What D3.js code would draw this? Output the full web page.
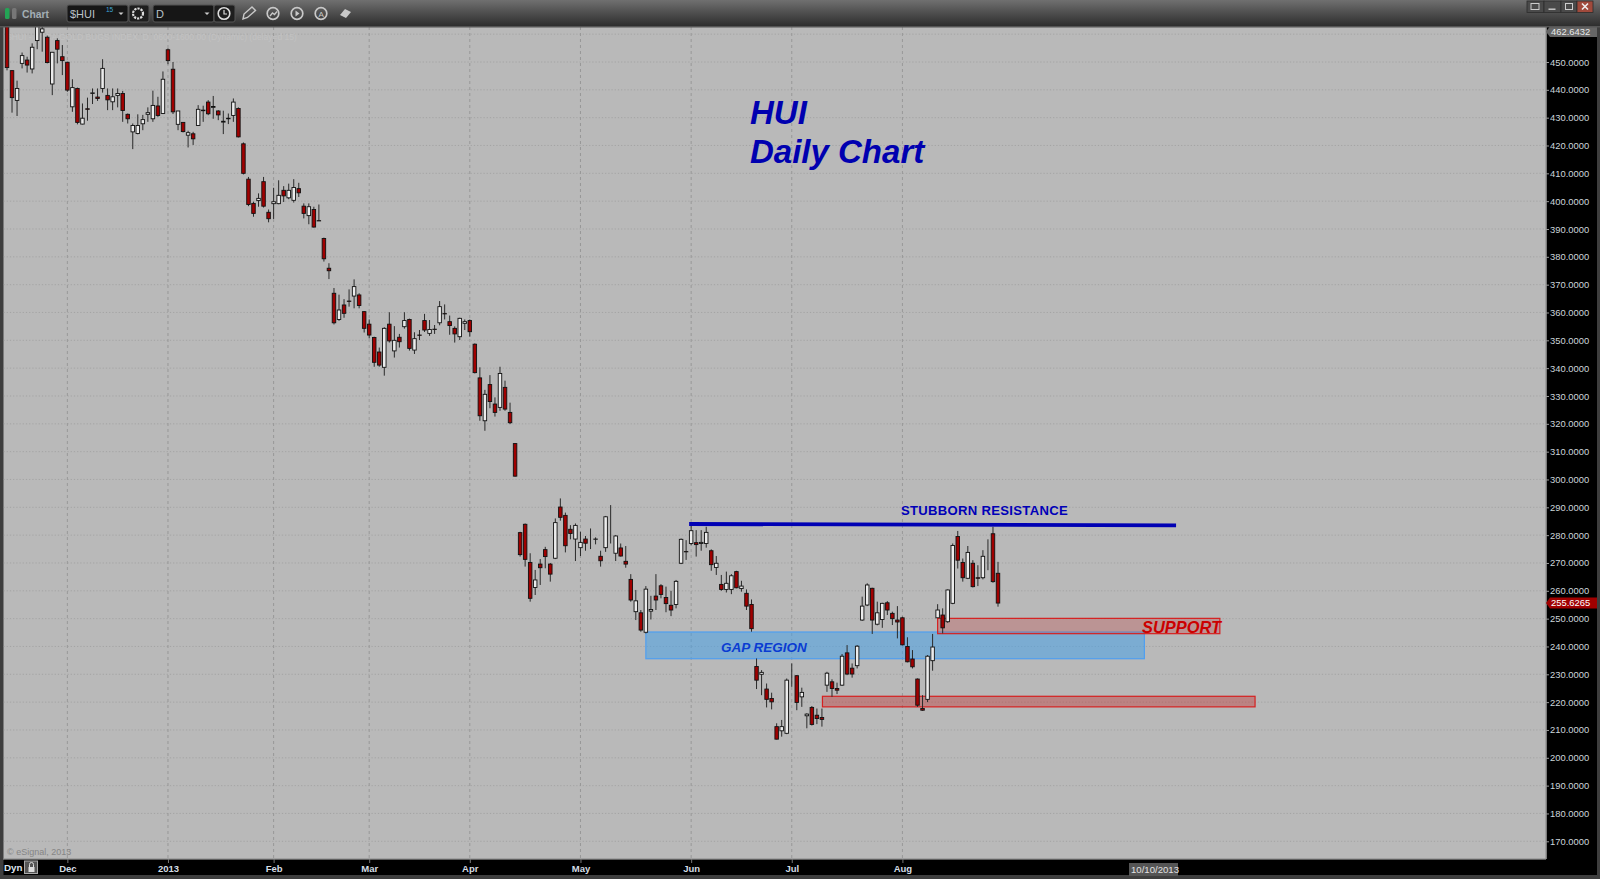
<!DOCTYPE html>
<html><head><meta charset="utf-8">
<style>
html,body{margin:0;padding:0;background:#3a3a3a;overflow:hidden}
svg{display:block}
text{font-family:"Liberation Sans",Arial,sans-serif}
</style>
<script src="https://cdn.jsdelivr.net/npm/d3@7/dist/d3.min.js"></script>
</head><body>
<script>
const opens=[466,446.9,436.2,449.5,450.7,447.5,457.7,460.7,458.9,442.1,
457.7,451.9,449.9,433.9,440.5,427.7,433.2,438.7,437.4,440.5,
438,435.7,438,438.7,431.2,424.9,424.3,427.8,431.2,429.6,
434.2,431.5,454.4,447.4,427.6,428.3,423.7,424.2,427.2,432.7,
435.6,433.7,432.4,428.4,429.8,430.8,433.3,420.6,407.9,399.2,
400.2,407,396,399.1,399.1,403.9,401.2,400.3,404.5,398.2,
394.8,397,393,386.6,375.9,366.9,357.5,362.7,364.1,365.9,
366.3,360.3,355.8,351,345.8,340.3,355.8,346.2,351.1,354.9,
357.5,346.5,351.9,357.1,352.5,354,356.3,359.6,356.7,354.3,
351.3,356.1,357.1,348.6,336.5,321.1,334.1,327.1,325.9,333.1,
324.1,312.9,280.9,283.9,270.2,261.2,269.6,274.8,269.6,271.7,
290.1,287.1,282.1,278.6,275.5,278.6,276.8,278.5,272.4,275.5,
280.6,273.5,275.4,270.6,264.1,252.5,252.1,245.1,252.7,258.1,
261.8,257.6,254.8,255.1,269.9,274.1,277,277.3,277,277,
274.4,268.4,262.3,260.5,260.5,266.9,260.8,259.1,255.1,232.8,
230,224.7,221.3,211.2,209.7,208.8,230.6,229.5,221.9,215.1,
218.1,215.3,214.5,226.1,227.3,224.9,226.1,237.7,232.2,233.1,
249.5,254.9,260.9,248,249.7,255.7,251.9,249.5,250.3,240,
235.5,228.3,217.7,221,234.9,250.3,251.3,248.9,255.5,279.5,
270.2,264.5,269.9,264.7,264.7,274.6,280.5,266.3];
const closes=[448,437.2,440.5,452.3,448.9,455.3,464,461.9,449.8,453.5,
454.6,450.5,439.9,440.8,428.3,429.8,433,438.9,436.9,447.7,
436.4,437.5,438.7,432.6,429.6,427.2,427.2,429.3,431.8,434.4,
430.8,443.8,450.5,432.1,432.4,425,424.6,422.4,433,432.5,
431.4,434,431,428.7,429.6,435.6,423.1,410,398.8,395.6,
401,398.2,393.7,399.8,402.1,401.9,403.9,404.9,403,395.6,
398,390.7,392.9,379.3,375,356.3,360.9,359.7,364,369.3,
362.5,354.3,351.9,342.1,341.1,354.3,349.8,350,349.5,357.1,
347.1,350.6,351.8,353.7,353.9,353.9,362.1,359.5,355.3,352.3,
357.9,356.7,353.1,338.4,322.9,330.6,328,324.1,338.1,325.3,
320.4,301.2,273,271.3,257.3,263.9,268.3,272.3,266,284.5,
286.4,276.2,280.6,283.5,277.4,277.1,276.8,278.6,270.8,286.6,
280.6,279.7,272.5,269.6,256.7,256.4,245.9,260.6,253.3,256.7,
258.7,255.4,253.1,263.4,278.5,274,281.6,276.6,277.4,281,
269.4,269.9,260.5,262.7,265.4,261.1,261.7,254.5,246.4,227.9,
230.7,221,220.1,206.7,211.2,227.9,230.6,219.9,223.5,215.7,
212,214.1,213.8,230.4,224.9,224.3,236.5,230.1,230.1,240.1,
254.5,262.1,249.5,252.1,255.5,253.1,250,248.8,240.6,234.5,
232.7,218.9,217.1,236.5,239.8,253.1,246.7,260.3,276.3,271,
264.7,273.8,261.5,264.5,272.4,274.6,263.3,255.6];
const highs=[470,447,443.3,453.4,451.9,456.7,466,464,459.5,453.6,
458.5,456.1,450.1,443.8,440.8,435.1,437.2,440.5,440.5,451,
440.5,440.5,440.5,439.6,431.5,427.9,431.2,431,433.7,439.7,
437.5,446.6,454.9,450,432.4,428.3,425.3,424.9,434.5,434.3,
436.3,437.8,432.7,432.5,431.5,436.9,433.7,421.1,408.7,399.8,
402.8,408.7,397,404.8,407.5,405.4,406.3,407.9,406.6,399.2,
399.2,398,398.8,386.9,377.7,368.8,366.4,364.8,368.3,371.9,
366.9,360.5,357.5,351.3,347.4,354.7,360.1,355.1,352.3,360.1,
357.8,352.9,353.7,359.5,357.3,355.5,364.1,362.9,358.9,355,
358.1,357.5,357.5,348.9,340.3,332.2,337.5,329.5,340.5,335.5,
327.6,313,281.2,284.2,273.5,267.5,271.4,275.8,270,286,
293.2,288.1,283.6,284.2,281.2,279.7,282.4,279.2,274.4,286.9,
290.8,280,277,276.1,266,260.3,253.1,261.7,258.2,266,
262.4,261.5,260,263.9,278.8,278.2,283.6,281.8,281.8,283,
274.9,272.5,265.7,266.9,266,267.2,263.6,260.5,256.9,235.7,
231.5,226.7,223.4,212.4,213.6,228.5,233.9,229.7,225.2,216,
218.6,217.7,217.7,230.9,228.2,227,237.3,240.5,233.9,240.5,
257.9,262.7,261.1,256.1,255.7,256.3,252.5,254.5,250.7,243.3,
238.7,228.5,222.5,236.9,244.5,255.2,253.7,260.5,277,281.5,
271.6,276.1,271,269.2,274.6,278.5,283,270.4];
const lows=[447,431.8,430.6,447.7,446.2,445.9,454.6,453.7,449.5,438.1,
449.5,445.3,439.3,432.1,427.6,427.6,428.9,434.9,436,439,
432.7,432.7,433.7,428.5,427.9,418.7,424,425.5,428.5,428.5,
430.3,431.3,449.2,431.3,425.5,424.7,419.3,420.2,427,428.5,
430.9,429.6,429.1,424.1,427.7,428.5,422.9,409.6,398.2,394.4,
398,397.7,392.4,393.6,398.9,399.7,400.7,399.5,401.5,393.8,
391.7,390.5,392.9,378.3,372,355.7,357,358.1,362.1,361.5,
361.5,352.8,350.7,340.5,340.5,337.3,349.2,343.8,347.4,354.2,
346.3,345.1,350.1,353,351.6,352.3,355.4,357.5,352,349.2,
350.1,353.7,351.3,338.1,321.1,317.5,325.6,322.6,324.7,324.7,
319.9,301,272.3,268.7,256.1,258.5,262.1,268.1,263.3,271.4,
285.2,273.8,278.5,270.7,272.5,274.4,275,276.7,268.7,274,
277,270.7,272.3,268.3,256.1,249.5,245.3,244.7,249.7,253.1,
257.3,252.3,250.9,253.7,269.6,271.1,276.4,272.3,274.4,275.5,
267.2,265.7,260,259.4,258.8,260.9,259.7,253.1,245.3,224.7,
222.5,218.1,217.4,206.6,207.6,208.5,225.5,217.1,218.3,210.6,
211.6,212.1,211.2,223.7,221.9,222.9,225.8,229.7,228.8,232.1,
249.2,254.5,244.5,247.6,246.7,251.3,247.7,242.9,240.4,234.3,
232.1,218.3,216.9,220,231.3,250.3,244.7,248.5,255.2,268,
263.3,264.2,261.2,261.7,264.1,267.4,262.9,254.3];

const monthIndex=[12,32,53,72,92,114,136,156,178];
const monthLabels=["Dec","2013","Feb","Mar","Apr","May","Jun","Jul","Aug"];
const priceTicks=d3.range(170,460,10);
const gridPrices=d3.range(170,470,10);
const topPrice=462.6432, lastPrice=255.6265;
const gapZone=[127,226.1,245.2,235.6];
const supportUpper=[185,241.1,250.1,244.6];
const supportLower=[162.1,248.1,222.1,218.3];
const resistance=[135.6,232.4,284,283.5];

const W=1600,H=879,L=3.5,T=27,R=1546,B=859;
const x=d3.scaleLinear().domain([0,197]).range([7,998]);
const y=d3.scaleLinear().domain([170,450]).range([841.3,62]);

const svg=d3.select("body").append("svg").attr("width",W).attr("height",H);
const defs=svg.append("defs");
const g1=defs.append("linearGradient").attr("id","bar").attr("x1",0).attr("x2",0).attr("y1",0).attr("y2",1);
g1.append("stop").attr("offset",0).attr("stop-color","#707070");
g1.append("stop").attr("offset",.5).attr("stop-color","#4e4e4e");
g1.append("stop").attr("offset",1).attr("stop-color","#2e2e2e");
defs.append("clipPath").attr("id","plot").append("rect").attr("x",L).attr("y",T).attr("width",R-L).attr("height",B-T);

svg.append("rect").attr("width",W).attr("height",H).attr("fill","#3e3e3e");
svg.append("rect").attr("x",R).attr("y",T).attr("width",W-R-3).attr("height",875-T).attr("fill","#000");
svg.append("rect").attr("x",L).attr("y",B).attr("width",W-L-3).attr("height",875-B).attr("fill","#000");
svg.append("rect").attr("x",L).attr("y",T).attr("width",R-L).attr("height",B-T).attr("fill","#b9b9b9");
svg.append("rect").attr("x",L-.5).attr("y",B-.5).attr("width",R-L+.5).attr("height",1.2).attr("fill","#888");
svg.append("rect").attr("x",R-.5).attr("y",T).attr("width",1.4).attr("height",B-T).attr("fill","#888");

const plot=svg.append("g").attr("clip-path","url(#plot)");
plot.append("g").selectAll("line").data(gridPrices).join("line")
  .attr("x1",L).attr("x2",R).attr("y1",d=>y(d)).attr("y2",d=>y(d))
  .attr("stroke","#9e9e9e").attr("stroke-width",.8).attr("stroke-dasharray","1.2 2");
plot.append("g").selectAll("line").data(monthIndex).join("line")
  .attr("x1",d=>x(d)).attr("x2",d=>x(d)).attr("y1",T).attr("y2",B)
  .attr("stroke","#989898").attr("stroke-width",1).attr("stroke-dasharray","3 3");

plot.append("text").attr("x",7).attr("y",40).attr("font-size",8.5).attr("fill","#c2c2c2")
  .text("$HUI - ARCA GOLD BUGS INDEX, D, 0600-1600.00 (Dynamic) (delay=d 15)");
plot.append("text").attr("x",7).attr("y",855).attr("font-size",9).attr("fill","#858585").text("© eSignal, 2013");

function zone(d,fill,stroke,op){
  return plot.append("rect").attr("x",x(d[0])).attr("width",x(d[1])-x(d[0]))
   .attr("y",y(d[2])).attr("height",y(d[3])-y(d[2]))
   .attr("fill",fill).attr("fill-opacity",op).attr("stroke",stroke).attr("stroke-width",1.2);
}
zone(gapZone,"#3ea0eb",  "#4f9ff0",.5);
zone(supportUpper,"#c05050","#d62020",.35);
zone(supportLower,"#c03030","#d62020",.4);

const idx=d3.range(opens.length);
const candles=plot.append("g");
candles.selectAll("line").data(idx).join("line")
  .attr("x1",i=>x(i)).attr("x2",i=>x(i)).attr("y1",i=>y(highs[i])).attr("y2",i=>y(lows[i]))
  .attr("stroke","#2a2a2a").attr("stroke-width",1);
candles.selectAll("rect").data(idx).join("rect")
  .attr("x",i=>x(i)-1.75).attr("width",3.5)
  .attr("y",i=>y(Math.max(opens[i],closes[i])))
  .attr("height",i=>Math.abs(y(opens[i])-y(closes[i])))
  .attr("fill",i=>closes[i]<opens[i]?"#a00000":"#ececec")
  .attr("stroke","#111").attr("stroke-width",.9);

plot.append("line").attr("x1",x(resistance[0])).attr("x2",x(resistance[1]))
  .attr("y1",y(resistance[2])).attr("y2",y(resistance[3]))
  .attr("stroke","#0000b4").attr("stroke-width",3.8);

const note=svg.append("g");
note.append("text").attr("x",750).attr("y",124).attr("font-size",33).attr("font-weight","bold").attr("font-style","italic").attr("fill","#0000b0").text("HUI");
note.append("text").attr("x",750).attr("y",163).attr("font-size",33).attr("font-weight","bold").attr("font-style","italic").attr("fill","#0000b0").text("Daily Chart");
note.append("text").attr("x",901).attr("y",515).attr("font-size",13.1).attr("font-weight","bold").attr("fill","#0000b8").attr("letter-spacing",".3").text("STUBBORN RESISTANCE");
note.append("text").attr("x",721).attr("y",652).attr("font-size",13.5).attr("font-style","italic").attr("font-weight","bold").attr("fill","#0a3cd2").text("GAP REGION");
note.append("text").attr("x",1142).attr("y",633).attr("font-size",16.4).attr("font-style","italic").attr("font-weight","bold").attr("fill","#cc0000").text("SUPPORT");

const yAxis=svg.append("g").attr("transform",`translate(${R},0)`)
  .call(d3.axisRight(y).tickValues(priceTicks).tickFormat(d3.format(".4f")).tickSize(3).tickPadding(1));
yAxis.select(".domain").remove();
yAxis.selectAll("line").attr("stroke","#999");
yAxis.selectAll("text").attr("fill","#cdd6dc").attr("font-size",9.4).attr("font-family","Liberation Sans");

const xAxis=svg.append("g").attr("transform",`translate(0,${B})`)
  .call(d3.axisBottom(x).tickValues(monthIndex).tickFormat((d,i)=>monthLabels[i]).tickSize(4).tickPadding(2));
xAxis.select(".domain").remove();
xAxis.selectAll("line").attr("stroke","#777");
xAxis.selectAll("text").attr("fill","#d4dde4").attr("font-size",9.5).attr("font-weight","bold").attr("font-family","Liberation Sans");

function tag(yv,fill,txt,op){
  const yc=y(yv);
  svg.append("path").attr("d",`M${R},${yc} L${R+4},${yc-5.4} H1597 V${yc+5.4} H${R+4} Z`).attr("fill",fill);
  svg.append("text").attr("x",1551).attr("y",yc+3.3).attr("font-size",9.4).attr("fill",op).text(txt);
}
tag(460.9,"#666",d3.format(".4f")(topPrice),"#e8e8e8");
tag(lastPrice,"#a00000",d3.format(".4f")(lastPrice),"#fff");

// bottom strip
svg.append("text").attr("x",4).attr("y",871).attr("font-size",9.8).attr("font-weight","bold").attr("fill","#dfe6f0").text("Dyn");
svg.append("rect").attr("x",24.5).attr("y",861).attr("width",13).attr("height",12.5).attr("fill","#555").attr("stroke","#aaa").attr("stroke-width",1);
svg.append("rect").attr("x",28.5).attr("y",867).attr("width",6).attr("height",5).attr("fill","#ddd");
svg.append("path").attr("d","M29.5,867 v-2.5 a2,2 0 0 1 4,0 v2.5").attr("fill","none").attr("stroke","#ddd");
svg.append("rect").attr("x",1129).attr("y",863).attr("width",49).attr("height",13).attr("fill","#555");
svg.append("text").attr("x",1131).attr("y",873).attr("font-size",9.6).attr("fill","#e2e2e2").text("10/10/2013");

// toolbar
const tb=svg.append("g");
tb.append("rect").attr("width",W).attr("height",T-1).attr("fill","url(#bar)");
tb.append("rect").attr("y",T-1).attr("width",W).attr("height",1.5).attr("fill","#555");
tb.append("rect").attr("x",5).attr("y",8).attr("width",4.5).attr("height",11).attr("rx",1.5).attr("fill","#23a455");
tb.append("rect").attr("x",12).attr("y",8).attr("width",4.5).attr("height",11).attr("rx",1.5).attr("fill","#777");
tb.append("text").attr("x",22).attr("y",18).attr("font-size",10.3).attr("font-weight","bold").attr("fill","#a3aeb5").text("Chart");
[[67,61],[153,61]].forEach(b=>tb.append("rect").attr("x",b[0]).attr("y",5).attr("width",b[1]).attr("height",17).attr("rx",2).attr("fill","#161616").attr("stroke","#555"));
[[129,20],[214,21]].forEach(b=>tb.append("rect").attr("x",b[0]).attr("y",5).attr("width",b[1]).attr("height",17).attr("rx",2).attr("fill","#1e1e1e").attr("stroke","#555"));
tb.append("text").attr("x",70).attr("y",18).attr("font-size",11).attr("fill","#b9c2c9").text("$HUI");
tb.append("text").attr("x",106).attr("y",12).attr("font-size",6.5).attr("fill","#3fa7d6").text("15");
tb.append("text").attr("x",156).attr("y",18).attr("font-size",11).attr("fill","#b9c2c9").text("D");
[[121,14],[207,14]].forEach(c=>tb.append("path").attr("d",`M${c[0]-2.5},${c[1]-1.5} h5 l-2.5,2.5 z`).attr("fill","#ccc"));
// gear + clock + tool icons
tb.append("circle").attr("cx",138).attr("cy",13.5).attr("r",5).attr("fill","none").attr("stroke","#ddd").attr("stroke-width",2.2).attr("stroke-dasharray","2.2 1");
tb.append("circle").attr("cx",224).attr("cy",13.5).attr("r",5.8).attr("fill","none").attr("stroke","#ddd").attr("stroke-width",1.6);
tb.append("path").attr("d","M224,10 v4 h3").attr("fill","none").attr("stroke","#ddd").attr("stroke-width",1.2);
tb.append("path").attr("d","M243,19 l1,-5 l8,-7 l3.5,3.5 l-8,7 z").attr("fill","none").attr("stroke","#c8c8c8").attr("stroke-width",1.4);
[273,297,321].forEach(cx=>tb.append("circle").attr("cx",cx).attr("cy",13.5).attr("r",5.8).attr("fill","none").attr("stroke","#c8c8c8").attr("stroke-width",1.7));
tb.append("path").attr("d","M270,16 l2.5,-3 l2,1.5 l2.5,-3").attr("fill","none").attr("stroke","#c8c8c8").attr("stroke-width",1.3);
tb.append("path").attr("d","M295.5,10.5 l4,3 l-4,3 z").attr("fill","#c8c8c8");
tb.append("text").attr("x",318.5).attr("y",16.5).attr("font-size",8).attr("fill","#c8c8c8").text("A");
tb.append("path").attr("d","M340,15 l5,-6 l6,3 l-5,6 z").attr("fill","#c8c8c8");
// window buttons
[[1527,17,"#4a4a4a"],[1544,17,"#4a4a4a"],[1561,16,"#4a4a4a"],[1577,16,"#a04a3c"]].forEach(b=>
  tb.append("rect").attr("x",b[0]).attr("y",1).attr("width",b[1]).attr("height",11.5).attr("fill",b[2]).attr("stroke","#2c2c2c").attr("stroke-width",.8));
tb.append("rect").attr("x",1531).attr("y",3.5).attr("width",8).attr("height",6).attr("fill","none").attr("stroke","#ccc");
tb.append("rect").attr("x",1548.5).attr("y",8.5).attr("width",7).attr("height",1.4).attr("fill","#ccc");
tb.append("rect").attr("x",1565.5).attr("y",3.5).attr("width",7).attr("height",6).attr("fill","none").attr("stroke","#ccc");
tb.append("path").attr("d","M1582,3.5 l6,6 M1588,3.5 l-6,6").attr("stroke","#eee").attr("stroke-width",1.6);
</script>
</body></html>
